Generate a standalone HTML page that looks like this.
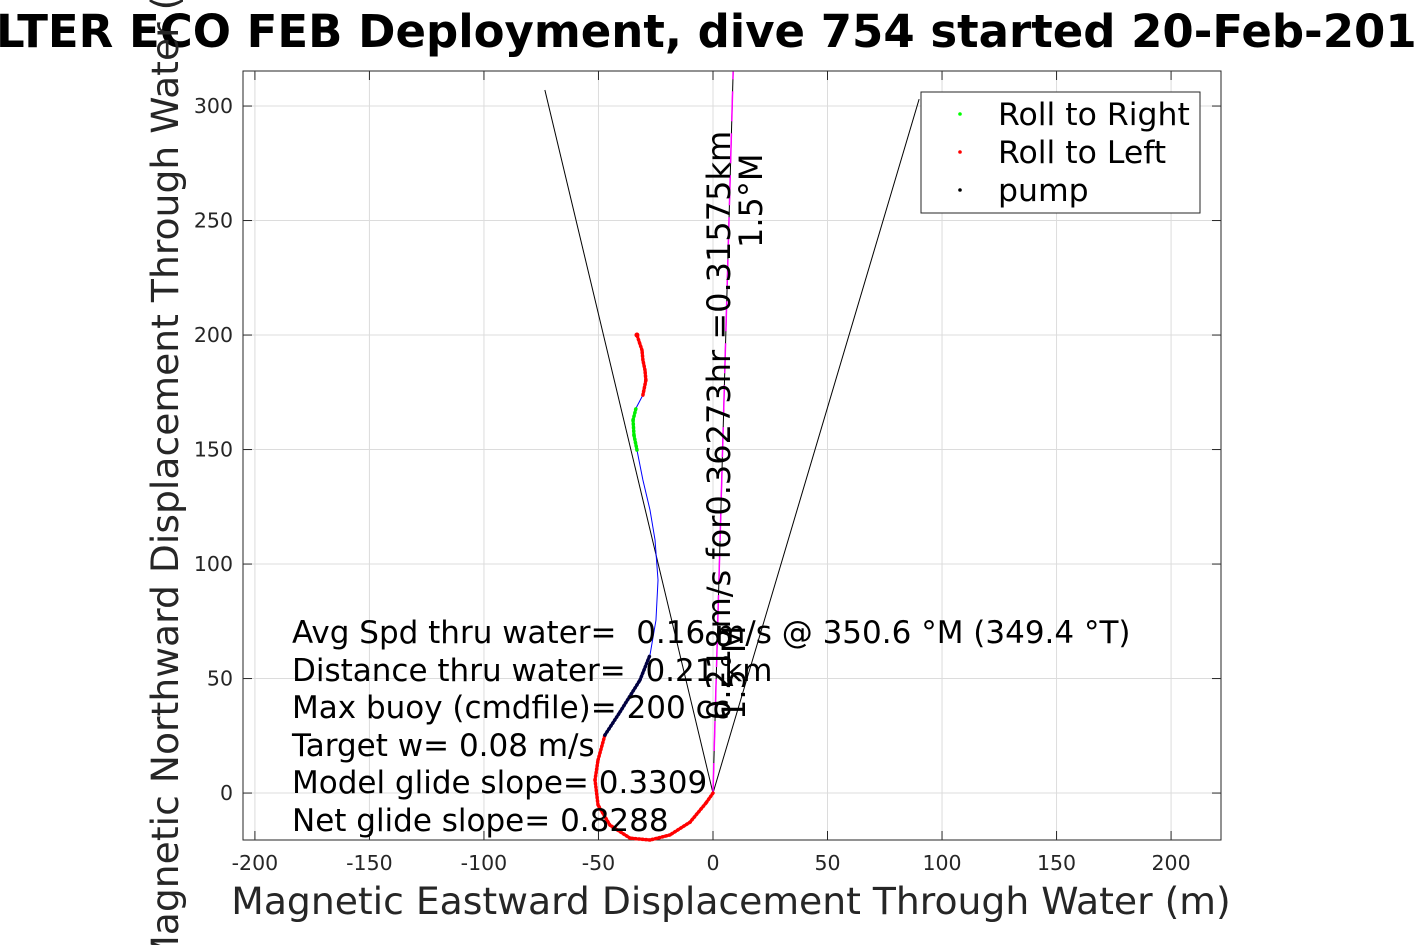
<!DOCTYPE html>
<html><head><meta charset="utf-8"><style>
html,body{margin:0;padding:0;background:#fff;overflow:hidden}
svg{display:block;font-family:"DejaVu Sans","Liberation Sans",sans-serif}
text{white-space:pre}
</style></head><body>
<svg id="chart" width="1417" height="945" viewBox="0 0 1417 945">
<text x="-4" y="47" font-size="45" font-weight="bold" fill="#000">LTER ECO FEB Deployment, dive 754 started 20-Feb-2019</text>
<rect x="243" y="71" width="978" height="769" fill="#fff" stroke="#262626" stroke-width="1"/>
<g id="grid"></g>
<g id="ticks"></g>
<g id="marks"></g>
<text x="731" y="914" font-size="37.7" fill="#262626" text-anchor="middle">Magnetic Eastward Displacement Through Water (m)</text>
<text transform="translate(178,456) rotate(-90)" font-size="37.7" fill="#262626" text-anchor="middle">Magnetic Northward Displacement Through Water (m)</text>
<g font-size="31" fill="#000">
<text x="292" y="643" xml:space="preserve">Avg Spd thru water=  0.16 m/s @ 350.6 °M (349.4 °T)</text>
<text x="292" y="681" xml:space="preserve">Distance thru water=  0.21 km</text>
<text x="292" y="718">Max buoy (cmdfile)= 200 cc</text>
<text x="292" y="756">Target w= 0.08 m/s</text>
<text x="292" y="793">Model glide slope= 0.3309</text>
<text x="292" y="831">Net glide slope= 0.8288</text>
</g>
<text transform="translate(730,720) rotate(-90)" font-size="32" fill="#000">0.218m/s for0.36273hr =0.31575km</text>
<text transform="translate(762,248) rotate(-90)" font-size="32" fill="#000">1.5°M</text>
<text transform="translate(745,720) rotate(-90)" font-size="32" fill="#000">1.5°M</text>
<g>
<rect x="921" y="92" width="279" height="121" fill="#fff" stroke="#262626" stroke-width="1"/>
<circle cx="960" cy="114" r="1.8" fill="#00ff00"/>
<text x="998" y="125" font-size="31.5">Roll to Right</text>
<circle cx="960" cy="152" r="1.8" fill="#ff0000"/>
<text x="998" y="163" font-size="31.5">Roll to Left</text>
<circle cx="960" cy="190" r="1.8" fill="#000"/>
<text x="998" y="201" font-size="31.5">pump</text>
</g>
</svg>
<script>
const xTicks=[-200,-150,-100,-50,0,50,100,150,200];
const yTicks=[0,50,100,150,200,250,300];
const trackX=[0,-3.1,-10,-18.8,-27.5,-36.2,-45,-50.2,-51.5,-50.2,-47.2,-40.6,-31.9,-27.5,-24.9,-24,-25.3,-27.5,-30.6,-33.2,-34.5,-34.9,-33.6,-30.6,-29.3,-29.7,-30.6,-31,-33.2];
const trackY=[0,-4.4,-12.7,-18.3,-20.5,-19.7,-14,-5.2,5.7,14.4,25.3,35.4,49.3,60.3,75.5,93,110.5,123.6,136.7,149.8,156.3,162.9,168.1,173.8,180.3,184.7,189.1,193.4,200];
const trackState=["L","L","L","L","L","L","L","L","L","L","P","P","P","N","N","N","N","N","N","R","R","R","N","L","L","L","L","L","L"];
const currentEnd=[8.8,315];
const coneLeft=[-73.4,307];
const coneRight=[90,303];
const NS="http://www.w3.org/2000/svg";
const X0=243,X1=1221,Y0=840,Y1=71,xmin=-205.2,xmax=221.8,ymin=-20.5,ymax=315.3;
function sx(v){return X0+(v-xmin)/(xmax-xmin)*(X1-X0);}
function sy(v){return Y0-(v-ymin)/(ymax-ymin)*(Y0-Y1);}
function mk(t,a,p){const e=document.createElementNS(NS,t);for(const k in a)e.setAttribute(k,a[k]);p.appendChild(e);return e;}
const grid=document.getElementById('grid'),ticks=document.getElementById('ticks'),marks=document.getElementById('marks');
xTicks.forEach(v=>{const x=sx(v);
const g=mk('line',{x1:x,x2:x,y1:Y1,y2:Y0,stroke:'#dcdcdc','stroke-width':1},grid);


mk('line',{x1:x,x2:x,y1:Y0,y2:Y0-9,stroke:'#262626'},ticks);
mk('line',{x1:x,x2:x,y1:Y1,y2:Y1+9,stroke:'#262626'},ticks);
const t=mk('text',{x:x,y:870,'font-size':20.5,fill:'#262626','text-anchor':'middle'},ticks);
t.textContent=v;

});
yTicks.forEach(v=>{const y=sy(v);
const g=mk('line',{x1:X0,x2:X1,y1:y,y2:y,stroke:'#dcdcdc','stroke-width':1},grid);


mk('line',{x1:X0,x2:X0+9,y1:y,y2:y,stroke:'#262626'},ticks);
mk('line',{x1:X1,x2:X1-9,y1:y,y2:y,stroke:'#262626'},ticks);
const t=mk('text',{x:233,y:y+7,'font-size':20.5,fill:'#262626','text-anchor':'end'},ticks);
t.textContent=v;

});
const ox=sx(0),oy=sy(0);
const cl=mk('line',{x1:ox,y1:oy,x2:sx(coneLeft[0]),y2:sy(coneLeft[1]),stroke:'#000','stroke-width':1},marks);


const cr=mk('line',{x1:ox,y1:oy,x2:sx(coneRight[0]),y2:sy(coneRight[1]),stroke:'#000','stroke-width':1},marks);


const ck=mk('line',{x1:ox,y1:oy,x2:sx(currentEnd[0]),y2:sy(currentEnd[1]),stroke:'#000','stroke-width':1},marks);


const cm=mk('line',{x1:ox,y1:oy,x2:sx(currentEnd[0]),y2:sy(currentEnd[1]),stroke:'#ff00ff','stroke-width':1.5,'stroke-dasharray':'30 12'},marks);


const pts=trackX.map((v,i)=>sx(v)+','+sy(trackY[i]));
const tr=mk('polyline',{points:pts.join(' '),fill:'none',stroke:'#0000ff','stroke-width':1},marks);


const colors={L:'#ff0000',R:'#00ee00',P:'#000040'};
for(let i=0;i<trackX.length-1;i++){const s=trackState[i];if(!colors[s])continue;
const seg=mk('line',{x1:sx(trackX[i]),y1:sy(trackY[i]),x2:sx(trackX[i+1]),y2:sy(trackY[i+1]),stroke:colors[s],'stroke-width':3.5,'stroke-dasharray':'1 2.5','stroke-linecap':'round'},marks);

}
const st=mk('circle',{cx:sx(trackX[trackX.length-1]),cy:sy(trackY[trackY.length-1]),r:2.5,fill:'#ff0000'},marks);


</script>
</body></html>
